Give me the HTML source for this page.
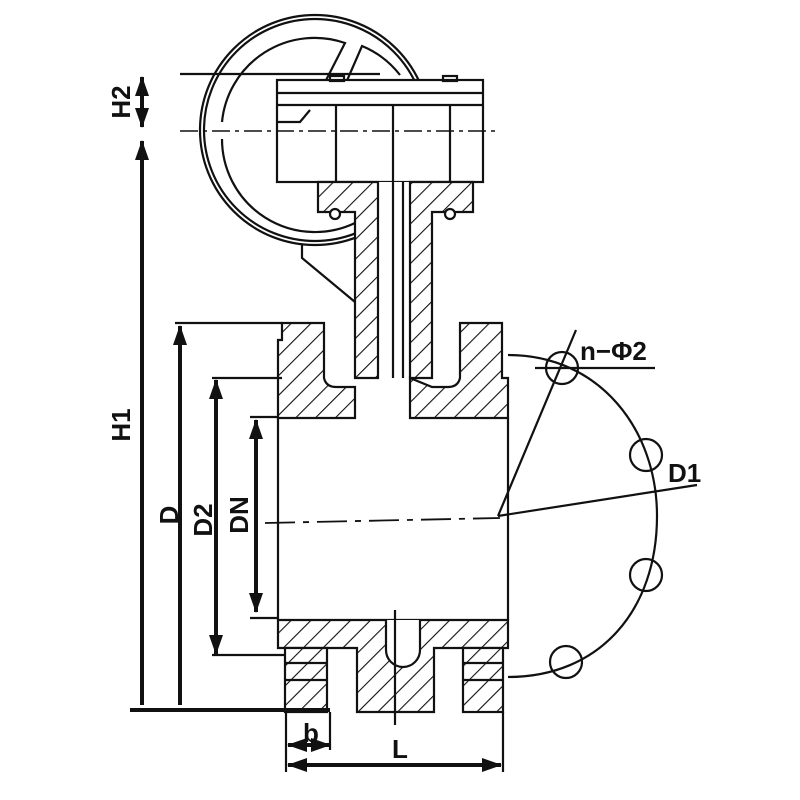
<!DOCTYPE html>
<html><head><meta charset="utf-8"><style>html,body{margin:0;padding:0;background:#fff}svg{display:block}</style></head>
<body>
<svg width="800" height="800" viewBox="0 0 800 800" xmlns="http://www.w3.org/2000/svg" font-family="Liberation Sans, sans-serif" font-weight="bold">
<defs>
<pattern id="h" width="14" height="14" patternUnits="userSpaceOnUse" patternTransform="rotate(45)">
<rect width="14" height="14" fill="#fff"/><line x1="0" y1="0" x2="0" y2="14" stroke="#111" stroke-width="2.2"/></pattern>
<marker id="a" markerWidth="20" markerHeight="16" refX="19" refY="8" orient="auto-start-reverse" markerUnits="userSpaceOnUse"><path d="M0,1 L20,8 L0,15z" fill="#111"/></marker>
</defs>
<g stroke="#111" fill="none" stroke-width="2.2">
<!-- handwheel -->
<circle cx="315" cy="130" r="115"/>
<circle cx="315" cy="130" r="111"/>
<path d="M222,122 A93,93 0 0 1 345,43 L320,92"/>
<path d="M222,139 A93,93 0 0 0 355,223"/>
<path d="M342,92 L362,46 A93,93 0 0 1 400,75"/>
<line x1="180" y1="74" x2="380" y2="74"/>
<!-- gearbox -->
<rect x="277" y="80" width="206" height="102" fill="#fff"/>
<line x1="277" y1="93" x2="483" y2="93"/>
<line x1="277" y1="105" x2="483" y2="105"/>
<line x1="336" y1="105" x2="336" y2="182"/>
<line x1="393" y1="105" x2="393" y2="182"/>
<line x1="450" y1="105" x2="450" y2="182"/>
<rect x="443" y="76" width="14" height="5"/>
<rect x="330" y="76" width="14" height="5"/>
<path d="M277,122 L300,122 L310,110"/>
<!-- bracket -->
<path d="M302,245 L302,258 L355,302"/>
<!-- neck -->
<rect x="378" y="182" width="32" height="196" fill="#fff" stroke="none"/>
<path d="M318,182 H378 V378 H355 V212 H318 Z" fill="url(#h)"/>
<path d="M410,182 H473 V212 H432 V378 H410 Z" fill="url(#h)"/>
<line x1="393" y1="182" x2="393" y2="378"/>
<line x1="403" y1="182" x2="403" y2="378"/>
<circle cx="335" cy="214" r="5" fill="#fff"/><circle cx="450" cy="214" r="5" fill="#fff"/>
<!-- body top -->
<path d="M282,323 H324 V378 Q326,387 336,387 H355 V418 H278 V340 H282 Z" fill="url(#h)"/>
<path d="M410,378 V418 H508 V378 H502 V323 H460 V378 Q458,387 448,387 H432 Z" fill="url(#h)"/>
<line x1="278" y1="418" x2="278" y2="620"/>
<line x1="508" y1="418" x2="508" y2="620"/>
<!-- body bottom -->
<path d="M278,620 H508 V648 H434 V712 H357 V648 H278 Z" fill="url(#h)"/>
<path d="M386,620 V650 A17,17 0 0 0 420,650 V620" fill="#fff"/>
<rect x="285" y="648" width="42" height="64" fill="url(#h)"/>
<rect x="463" y="648" width="40" height="64" fill="url(#h)"/>
<line x1="285" y1="663" x2="327" y2="663"/><line x1="285" y1="680" x2="327" y2="680"/>
<line x1="463" y1="663" x2="503" y2="663"/><line x1="463" y1="680" x2="503" y2="680"/>
<line x1="395" y1="610" x2="395" y2="725"/>
<!-- centerlines -->
<line x1="180" y1="131" x2="500" y2="131" stroke-dasharray="18,5,4,5" stroke-width="1.6"/>
<line x1="265" y1="523" x2="500" y2="518" stroke-dasharray="30,8,6,8" stroke-width="1.8"/>
<!-- extension lines -->
<line x1="175" y1="323" x2="282" y2="323"/>
<line x1="212" y1="378" x2="282" y2="378"/>
<line x1="250" y1="417" x2="278" y2="417"/>
<line x1="250" y1="618" x2="278" y2="618"/>
<line x1="212" y1="655" x2="285" y2="655"/>
<line x1="130" y1="710" x2="330" y2="710" stroke-width="4"/>
<line x1="286" y1="712" x2="286" y2="772"/>
<line x1="503" y1="712" x2="503" y2="772"/>
<line x1="330" y1="712" x2="330" y2="750"/>
<!-- dims -->
<g stroke-width="4">
<line x1="142" y1="77" x2="142" y2="127" marker-start="url(#a)" marker-end="url(#a)"/>
<line x1="142" y1="141" x2="142" y2="705" marker-start="url(#a)"/>
<line x1="180" y1="326" x2="180" y2="705" marker-start="url(#a)"/>
<line x1="216" y1="380" x2="216" y2="654" marker-start="url(#a)" marker-end="url(#a)"/>
<line x1="256" y1="420" x2="256" y2="612" marker-start="url(#a)" marker-end="url(#a)"/>
<line x1="288" y1="765" x2="501" y2="765" marker-start="url(#a)" marker-end="url(#a)"/>
<line x1="288" y1="745" x2="330" y2="745" marker-start="url(#a)" marker-end="url(#a)"/>
</g>
<!-- bolt circle -->
<path d="M508,355 C600,355 657,430 657,516 C657,610 600,677 508,677"/>
<circle cx="562" cy="368" r="16"/><circle cx="646" cy="455" r="16"/>
<circle cx="646" cy="575" r="16"/><circle cx="566" cy="662" r="16"/>
<line x1="498" y1="516" x2="576" y2="330"/>
<line x1="498" y1="516" x2="697" y2="485"/>
<line x1="535" y1="368" x2="655" y2="368"/>
</g>
<g fill="#111" font-size="26">
<text x="580" y="360">n−Φ2</text>
<text x="668" y="482">D1</text>
<text x="400" y="758" text-anchor="middle">L</text>
<text x="311" y="742" text-anchor="middle">b</text>
<text transform="translate(130,102) rotate(-90)" text-anchor="middle">H2</text>
<text transform="translate(130,425) rotate(-90)" text-anchor="middle">H1</text>
<text transform="translate(178,515) rotate(-90)" text-anchor="middle">D</text>
<text transform="translate(212,520) rotate(-90)" text-anchor="middle">D2</text>
<text transform="translate(248,515) rotate(-90)" text-anchor="middle">DN</text>
</g>
</svg>
</body></html>
